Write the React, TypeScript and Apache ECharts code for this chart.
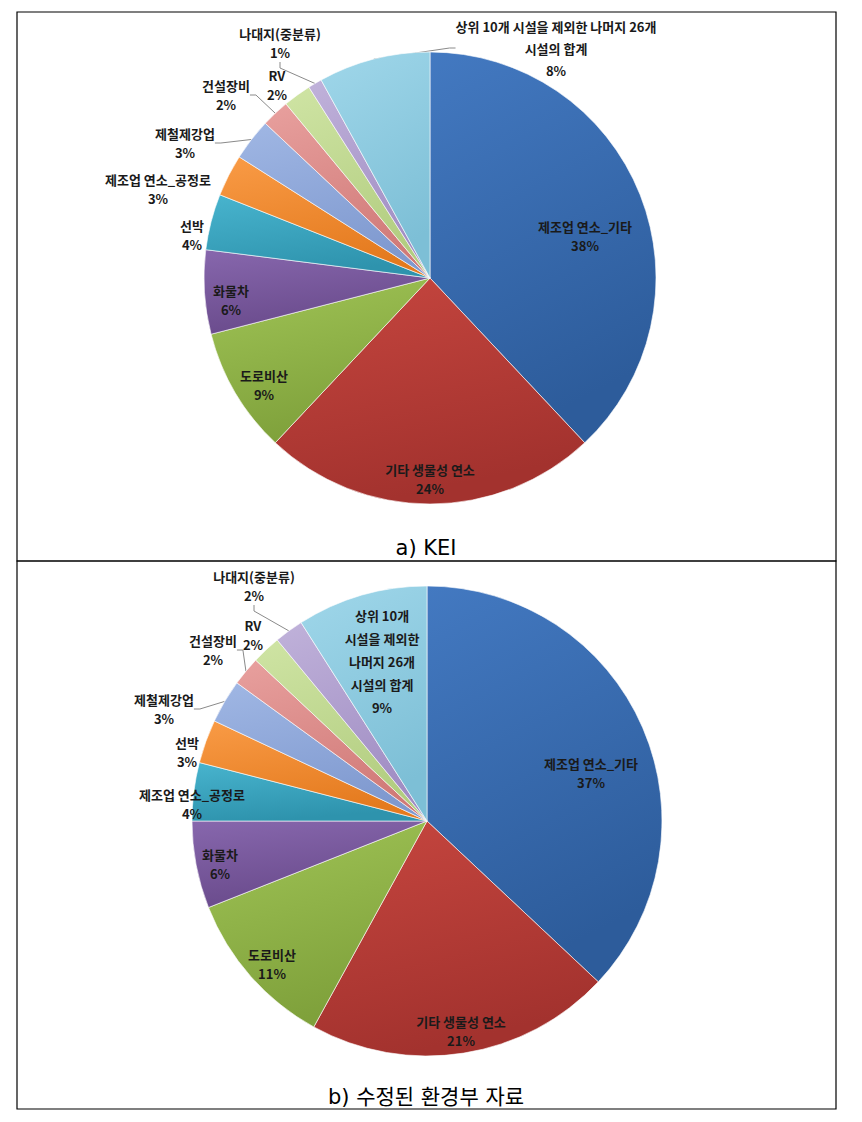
import React, { useEffect, useRef } from "react";
import * as echarts from "echarts";

// ---------- data ----------
const topNames = [
  "제조업 연소_기타",
  "기타 생물성 연소",
  "도로비산",
  "화물차",
  "선박",
  "제조업 연소_공정로",
  "제철제강업",
  "건설장비",
  "RV",
  "나대지(중분류)",
  "상위 10개 시설을 제외한 나머지 26개 시설의 합계",
];
const topValues = [38, 24, 9, 6, 4, 3, 3, 2, 2, 1, 8];

const bottomNames = [
  "제조업 연소_기타",
  "기타 생물성 연소",
  "도로비산",
  "화물차",
  "제조업 연소_공정로",
  "선박",
  "제철제강업",
  "건설장비",
  "RV",
  "나대지(중분류)",
  "상위 10개 시설을 제외한 나머지 26개 시설의 합계",
];
const bottomValues = [37, 21, 11, 6, 4, 3, 3, 2, 2, 2, 9];

const captions = ["a) KEI", "b) 수정된 환경부 자료"];

// ---------- styles / layout ----------
const sliceColors: [string, string][] = [
  ["#4379C1", "#2D5C9B"],
  ["#C6463F", "#A3322E"],
  ["#A0C456", "#7FA13B"],
  ["#8767AD", "#694A8B"],
  ["#48B4CE", "#2E93AD"],
  ["#F99B46", "#E47A1E"],
  ["#A0B7E4", "#7F99CF"],
  ["#E8A09E", "#D07A78"],
  ["#CFE4A4", "#B2CD80"],
  ["#C0B2DA", "#A08DC3"],
  ["#A0D7EA", "#7DBFD6"],
];

const pies = [
  {
    center: [430, 278],
    radius: 226,
    names: topNames,
    values: topValues,
    inside: [0, 1, 2, 3],
    leader: [6, 7, 9, 10],
    wrap: "상위 10개 시설을 제외한 나머지 26개\n시설의 합계",
    labelPos: [
      [585, 236],
      [430, 479],
      [264, 385],
      [231, 300],
      [192, 235],
      [158, 189],
      [185, 143],
      [226, 95],
      [277, 85],
      [280, 43],
      [556, 48],
    ],
  },
  {
    center: [427, 821],
    radius: 235,
    names: bottomNames,
    values: bottomValues,
    inside: [0, 1, 2, 3, 10],
    leader: [6, 7, 9],
    wrap: "상위 10개\n시설을 제외한\n나머지 26개\n시설의 합계",
    labelPos: [
      [591, 773],
      [461, 1031],
      [272, 964],
      [220, 864],
      [192, 804],
      [187, 752],
      [164, 709],
      [213, 650],
      [253, 635],
      [254, 586],
      [382, 661],
    ],
  },
];

const FONT = "'Noto Sans CJK KR', 'Noto Sans', sans-serif";

export default function App() {
  const ref = useRef<HTMLDivElement>(null);

  useEffect(() => {
    if (!ref.current) return;
    const chart = echarts.init(ref.current, null, { renderer: "svg" });

    const series = pies.map((p, si) => ({
      type: "pie",
      center: p.center,
      radius: p.radius,
      startAngle: 90,
      clockwise: true,
      avoidLabelOverlap: false,
      silent: true,
      itemStyle: { borderColor: "rgba(255,255,255,0.6)", borderWidth: 1 },
      label: {
        show: true,
        position: "outside",
        color: "#1a1a1a",
        fontFamily: FONT,
        fontWeight: "bold",
        fontSize: 13,
        lineHeight: 19,
        align: "center",
        formatter: (params: any) => {
          const nm = params.name.startsWith("상위") ? p.wrap : params.name;
          return `${nm}\n${params.value}%`;
        },
      },
      labelLine: {
        show: true,
        length: 8,
        length2: 6,
        lineStyle: { color: "#8a8a8a", width: 1 },
      },
      labelLayout: (params: any) => {
        const pos = p.labelPos[params.dataIndex];
        return {
          x: pos[0],
          y: pos[1],
          align: "center",
          verticalAlign: "middle",
          hideOverlap: false,
        };
      },
      data: p.values.map((v, i) => {
        const isInside = p.inside.includes(i);
        const hasLeader = p.leader.includes(i);
        const isLong = p.names[i].startsWith("상위");
        return {
          name: p.names[i],
          value: v,
          itemStyle: {
            color: {
              type: "linear",
              x: 0,
              y: 0,
              x2: 0.3,
              y2: 1,
              colorStops: [
                { offset: 0, color: sliceColors[i][0] },
                { offset: 1, color: sliceColors[i][1] },
              ],
            },
          },
          label: {
            position: isInside ? "inside" : "outside",
            lineHeight: isLong ? (si === 1 ? 23 : 22) : 19,
          },
          labelLine: { show: !isInside && hasLeader },
        };
      }),
    }));

    chart.setOption({
      animation: false,
      backgroundColor: "#ffffff",
      graphic: [
        {
          type: "rect",
          shape: { x: 17, y: 12, width: 819, height: 549 },
          style: { fill: "none", stroke: "#000", lineWidth: 1.2 },
        },
        {
          type: "rect",
          shape: { x: 17, y: 561, width: 819, height: 548 },
          style: { fill: "none", stroke: "#000", lineWidth: 1.2 },
        },
        {
          type: "text",
          x: 426,
          y: 548,
          style: {
            text: captions[0],
            fontFamily: "'DejaVu Sans', 'Noto Sans CJK KR', sans-serif",
            fontSize: 21,
            fill: "#000",
            textAlign: "center",
            textVerticalAlign: "middle",
          },
        },
        {
          type: "text",
          x: 426,
          y: 1097,
          style: {
            text: captions[1],
            fontFamily: "'DejaVu Sans', 'Noto Sans CJK KR', sans-serif",
            fontSize: 21,
            fill: "#000",
            textAlign: "center",
            textVerticalAlign: "middle",
          },
        },
      ],
      series,
    });

    return () => chart.dispose();
  }, []);

  return (
    <div
      ref={ref}
      style={{ position: "absolute", left: 0, top: 0, width: 862, height: 1122 }}
    />
  );
}
